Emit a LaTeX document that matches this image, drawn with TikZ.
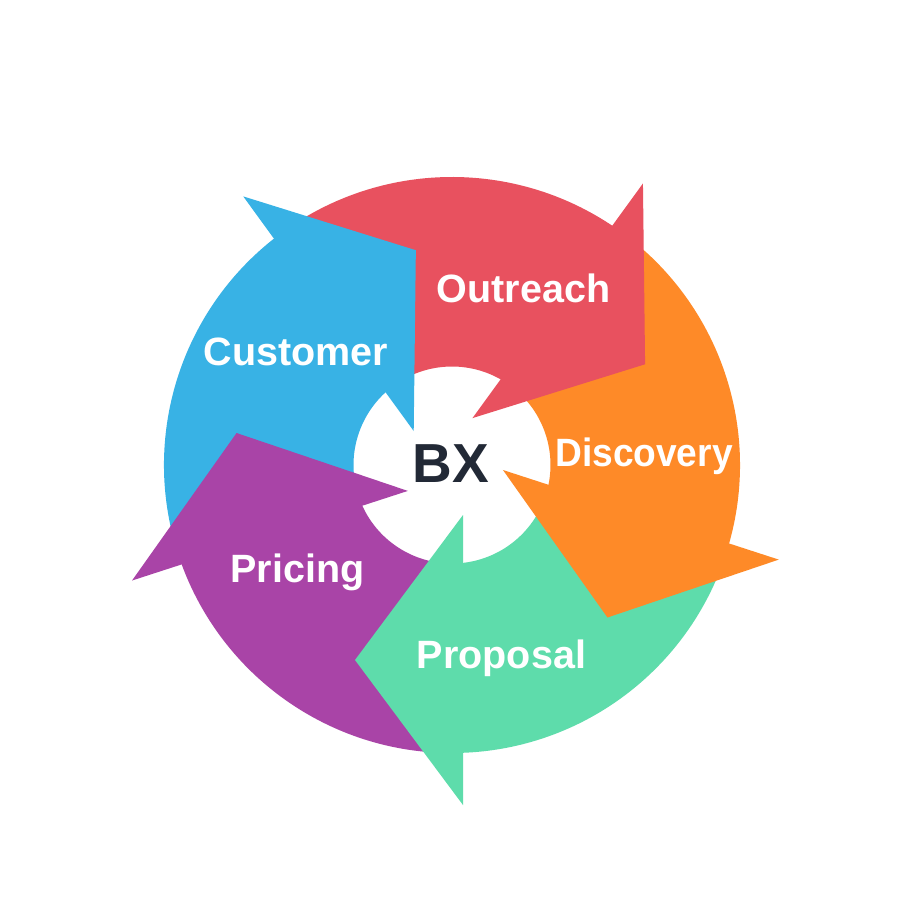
\documentclass[tikz,border=0pt]{standalone}
\usepackage{fontspec}
\setmainfont{Liberation Sans}
\usepackage{graphicx}
\definecolor{segred}{HTML}{E8515F}
\definecolor{segorange}{HTML}{FE8A28}
\definecolor{seggreen}{HTML}{5EDCAB}
\definecolor{segpurple}{HTML}{A944A7}
\definecolor{segblue}{HTML}{38B2E5}
\definecolor{navy}{HTML}{222936}
\tikzset{
  lab/.style={text=white, anchor=base, inner sep=0pt, font=\fontsize{39.5}{40}\selectfont\bfseries},
  hub/.style={text=navy, anchor=base, inner sep=0pt, font=\fontsize{55}{56}\selectfont\bfseries},
}
\newcommand{\segbody}[2]{%
  \fill[#2, rotate=#1] (8,-98.17) -- (8,-287.89) arc[start angle=-88.41, end angle=-18, radius=288]
    -- (-18:98.5) arc[start angle=-18, end angle=-85.34, radius=98.5] -- cycle;}
\newcommand{\seghead}[2]{%
  \fill[#2, rotate=#1] (11,-50) -- (11,-340) -- (-97,-195) -- cycle;}
\begin{document}
\begin{tikzpicture}[x=1pt,y=1pt]
\useasboundingbox[fill=white] (-452,-438) rectangle (452,465);
\segbody{0}{seggreen}
\segbody{72}{segorange}
\segbody{144}{segred}
\segbody{216}{segblue}
\segbody{288}{segpurple}
\seghead{0}{seggreen}
\seghead{72}{segorange}
\seghead{144}{segred}
\seghead{216}{segblue}
\seghead{288}{segpurple}
\node[lab] (outreach) at (71.5,163) {Outreach};
\node[lab] (customer) at (-156,100) {Customer};
\node[lab] (discovery) at (192,-1) {\scalebox{0.94}[1]{Discovery}};
\node[lab] (pricing) at (-154.5,-117) {Pricing};
\node[lab] (proposal) at (49.5,-203) {Proposal};
\node[hub] (bx) at (-1,-17) {BX};
\end{tikzpicture}
\end{document}
